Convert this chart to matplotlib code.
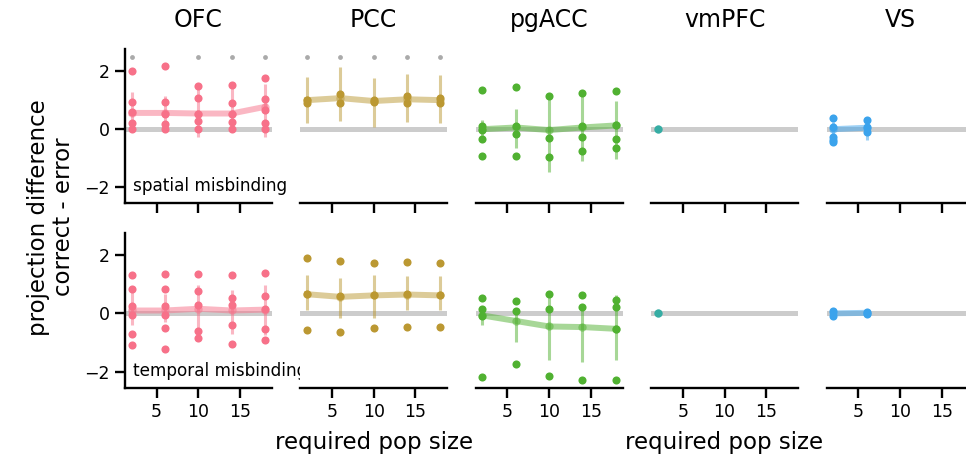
import matplotlib
matplotlib.use("Agg")
import matplotlib.pyplot as plt

# pop sizes tested and regions
pop_sizes = [2, 6, 10, 14, 18]
regions = ["OFC", "PCC", "pgACC", "vmPFC", "VS"]
region_colors = ["#f77189", "#bb9832", "#50b131", "#36ada4", "#3ba3ec"]
conditions = ["spatial misbinding", "temporal misbinding"]

# --- spatial misbinding ---
ofc_sp_pts = [[2.0, 0.92, 0.6, 0.2, 0.0], [2.17, 0.92, 0.52, 0.17, 0.0],
              [1.48, 1.06, 0.52, 0.28, 0.0], [1.52, 0.89, 0.52, 0.24, 0.0],
              [1.77, 1.03, 0.66, 0.23, 0.0]]
ofc_sp_mean = [0.56, 0.56, 0.54, 0.54, 0.77]
ofc_sp_lo = [-0.05, -0.02, -0.28, -0.1, -0.28]
ofc_sp_hi = [1.29, 1.15, 1.45, 1.45, 1.55]

pcc_sp_pts = [[1.0, 0.91], [1.2, 0.89], [1.0, 0.92], [1.14, 0.89], [1.09, 0.91]]
pcc_sp_mean = [1.0, 1.07, 0.97, 1.03, 1.0]
pcc_sp_lo = [0.2, 0.28, 0.08, 0.25, 0.2]
pcc_sp_hi = [1.78, 2.13, 1.77, 1.9, 1.86]

pgacc_sp_pts = [[1.34, 0.1, -0.03, -0.33, -0.91], [1.46, 0.1, -0.18, -0.92],
                [1.16, -0.3, -0.95], [1.23, 0.1, -0.26, -0.74],
                [1.32, 0.15, -0.32, -0.66]]
pgacc_sp_mean = [0.0, 0.06, -0.03, 0.06, 0.13]
pgacc_sp_lo = [-0.3, -0.63, -1.47, -1.09, -1.01]
pgacc_sp_hi = [0.31, 0.68, 1.16, 1.23, 0.97]

vmpfc_sp_pts = [[0.0]]
vmpfc_sp_mean = [0.0]
vmpfc_sp_lo = [0.0]
vmpfc_sp_hi = [0.0]

vs_sp_pts = [[0.4, 0.06, -0.26, -0.36, -0.44], [0.33, 0.06, -0.09]]
vs_sp_mean = [0.0, 0.05]
vs_sp_lo = [-0.25, -0.38]
vs_sp_hi = [0.25, 0.2]

# pop sizes marked as significant (grey dots on top)
ofc_sp_sig = [2, 10, 14, 18]
pcc_sp_sig = [2, 6, 10, 14, 18]

# --- temporal misbinding ---
ofc_tp_pts = [[1.33, 0.85, 0.24, -0.07, -0.72, -1.1], [1.36, 0.85, 0.24, -0.05, -0.49, -1.24],
              [1.36, 0.77, 0.28, -0.62, -0.85], [1.33, 0.53, 0.28, -0.41, -1.07],
              [1.4, 0.6, 0.16, -0.55, -0.9]]
ofc_tp_mean = [0.1, 0.1, 0.16, 0.1, 0.13]
ofc_tp_lo = [-0.41, -0.3, -0.64, -0.7, -0.76]
ofc_tp_hi = [0.74, 0.68, 0.97, 0.8, 0.97]

pcc_tp_pts = [[1.91, 0.66, -0.56], [1.79, 0.59, -0.64], [1.74, 0.62, -0.51],
              [1.77, 0.66, -0.47], [1.74, 0.62, -0.47]]
pcc_tp_mean = [0.66, 0.57, 0.62, 0.65, 0.62]
pcc_tp_lo = [0.1, -0.15, -0.15, 0.1, 0.1]
pcc_tp_hi = [1.33, 1.23, 1.33, 1.28, 1.29]

pgacc_tp_pts = [[0.54, 0.14, -0.09, -2.2], [0.44, 0.07, -1.74], [0.66, 0.16, -2.17],
                [0.64, 0.23, -2.29], [0.45, 0.22, -0.53, -2.28]]
pgacc_tp_mean = [-0.07, -0.26, -0.45, -0.47, -0.53]
pgacc_tp_lo = [-0.41, -0.99, -1.6, -1.68, -1.62]
pgacc_tp_hi = [0.07, 0.07, 0.66, 0.16, 0.64]

vmpfc_tp_pts = [[0.0]]
vmpfc_tp_mean = [0.0]
vmpfc_tp_lo = [0.0]
vmpfc_tp_hi = [0.0]

vs_tp_pts = [[0.08, -0.08], [0.06, -0.03]]
vs_tp_mean = [0.0, 0.02]
vs_tp_lo = [-0.08, -0.05]
vs_tp_hi = [0.08, 0.06]

spatial = [
    (ofc_sp_pts, ofc_sp_mean, ofc_sp_lo, ofc_sp_hi, ofc_sp_sig),
    (pcc_sp_pts, pcc_sp_mean, pcc_sp_lo, pcc_sp_hi, pcc_sp_sig),
    (pgacc_sp_pts, pgacc_sp_mean, pgacc_sp_lo, pgacc_sp_hi, []),
    (vmpfc_sp_pts, vmpfc_sp_mean, vmpfc_sp_lo, vmpfc_sp_hi, []),
    (vs_sp_pts, vs_sp_mean, vs_sp_lo, vs_sp_hi, []),
]
temporal = [
    (ofc_tp_pts, ofc_tp_mean, ofc_tp_lo, ofc_tp_hi, []),
    (pcc_tp_pts, pcc_tp_mean, pcc_tp_lo, pcc_tp_hi, []),
    (pgacc_tp_pts, pgacc_tp_mean, pgacc_tp_lo, pgacc_tp_hi, []),
    (vmpfc_tp_pts, vmpfc_tp_mean, vmpfc_tp_lo, vmpfc_tp_hi, []),
    (vs_tp_pts, vs_tp_mean, vs_tp_lo, vs_tp_hi, []),
]

W, H = 966, 467
fig = plt.figure(figsize=(W / 100, H / 100), dpi=100)

col_left = [125, 300.4, 475.8, 651.2, 826.6]
ax_w = 146.7
row_bottom = [203.3, 387.5]
ax_h = 154

for r, rows in enumerate([spatial, temporal]):
    for c, (pts, mean, lo, hi, sig) in enumerate(rows):
        ax = fig.add_axes([col_left[c] / W, (H - row_bottom[r]) / H, ax_w / W, ax_h / H])
        color = region_colors[c]
        xs = pop_sizes[:len(mean)]

        ax.axhline(0, color="#cccccc", lw=3.6, zorder=1)
        ax.vlines(xs, lo, hi, color=color, alpha=0.5, lw=2.2, zorder=2)
        ax.plot(xs, mean, color=color, alpha=0.5, lw=4.3, marker="o", ms=6,
                markeredgewidth=0, zorder=3)
        for x, p in zip(xs, pts):
            ax.scatter([x] * len(p), p, s=34, color=color, linewidths=0, zorder=4)
        if sig:
            ax.scatter(sig, [2.5] * len(sig), s=12, color="#aaaaaa", linewidths=0, zorder=4)

        ax.set_xlim(1.2, 18.8)
        ax.set_ylim(-2.55, 2.75)
        ax.set_xticks([5, 10, 15])
        ax.set_yticks([-2, 0, 2])
        for side in ["top", "right"]:
            ax.spines[side].set_visible(False)
        for side in ["left", "bottom"]:
            ax.spines[side].set_linewidth(1.7)
        ax.tick_params(length=7, width=1.7, labelsize=12.5, pad=4)

        if c > 0:
            ax.spines["left"].set_visible(False)
            ax.tick_params(axis="y", left=False, labelleft=False)
        if r == 0:
            ax.tick_params(axis="x", labelbottom=False)
            ax.set_title(regions[c], fontsize=17, pad=16)
        if c == 0:
            ax.text(0.055, 0.11, conditions[r], transform=ax.transAxes,
                    fontsize=12.2, va="center", ha="left", clip_on=False, zorder=5)
        if r == 1 and c in (1, 3):
            ax.set_xlabel("required pop size", fontsize=16.5, labelpad=7)

fig.text(51 / W, 0.535, "projection difference\ncorrect - error", rotation=90,
         ha="center", va="center", fontsize=16.5, linespacing=1.1)

fig.savefig("out.png", dpi=100)
